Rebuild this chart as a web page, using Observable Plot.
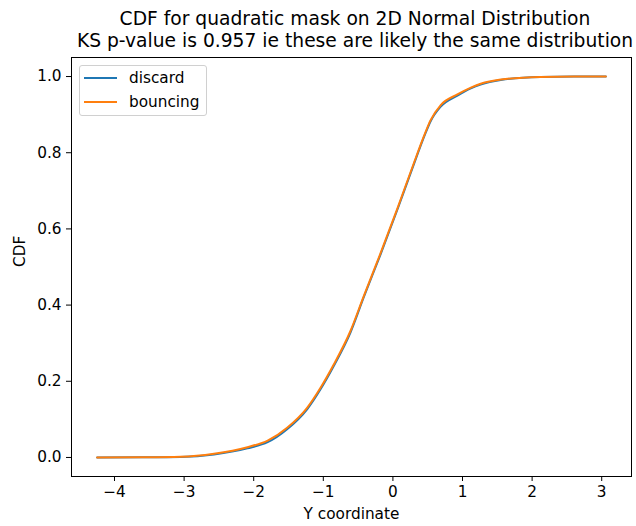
<!DOCTYPE html>
<html>
<head>
<meta charset="utf-8">
<script src="https://cdn.jsdelivr.net/npm/d3@7"></script>
<script src="https://cdn.jsdelivr.net/npm/@observablehq/plot@0.6"></script>
<style>
  html, body { margin: 0; padding: 0; background: #fff; }
  #wrap { position: relative; width: 636px; height: 526px; font-family: "DejaVu Sans", sans-serif; color: #000; }
  #title { box-sizing: border-box; width: 636px; height: 50px; padding-top: 8px; padding-left: 74px;
           font-size: 18.7px; line-height: 21.6px; text-align: center; white-space: nowrap; }
  #legend { position: absolute; left: 79px; top: 65px; width: 126px; height: 49px;
            border: 1px solid #d0d0d0; border-radius: 3px; background: rgba(255,255,255,0.8); }
  .entry { position: absolute; left: 0; height: 20px; width: 126px; }
  .swatch { position: absolute; left: 4px; width: 33px; height: 2px; top: 9px; }
  .name { position: absolute; left: 49px; top: 0; font-size: 15.3px; line-height: 20px; }
</style>
</head>
<body>
<div id="wrap">
  <div id="title"></div>
  <div id="chart"></div>
  <div id="legend"></div>
</div>
<script>
// Title lines
const titleLines = [
  "CDF for quadratic mask on 2D Normal Distribution",
  "KS p-value is 0.957 ie these are likely the same distribution"
];

// Empirical CDFs of the Y coordinate for the two masking strategies
const yCoordinate = [-4.25, -3.6, -3.05, -2.57, -2.09, -1.80, -1.52, -1.23, -1.04, -0.85,
                     -0.61, -0.42, -0.18, 0.065, 0.256, 0.47, 0.54, 0.687, 0.927, 1.12,
                     1.26, 1.55, 2.12, 2.6, 3.06];
const discardCdf = [0, 0.0004, 0.0015, 0.008, 0.024, 0.040, 0.074, 0.127, 0.179, 0.240,
                    0.328, 0.420, 0.532, 0.651, 0.747, 0.852, 0.882, 0.921, 0.950, 0.969,
                    0.979, 0.991, 0.999, 1.0, 1.0];
const bouncingCdf = [0, 0.0005, 0.002, 0.010, 0.027, 0.044, 0.078, 0.131, 0.183, 0.244,
                     0.332, 0.423, 0.535, 0.654, 0.750, 0.855, 0.885, 0.925, 0.953, 0.971,
                     0.981, 0.992, 0.999, 1.0, 1.0];

const seriesNames = ["discard", "bouncing"];
const seriesColors = ["#1f77b4", "#ff7f0e"];

const xTicks = [-4, -3, -2, -1, 0, 1, 2, 3];
const yTicks = [0, 0.2, 0.4, 0.6, 0.8, 1.0];

const seriesValues = [discardCdf, bouncingCdf];
const rows = seriesNames.flatMap((name, s) =>
  yCoordinate.map((x, i) => ({x, cdf: seriesValues[s][i], series: name}))
);

// Title
document.getElementById("title").innerHTML = titleLines.map(t => `<div>${t}</div>`).join("");

// Chart
const chart = Plot.plot({
  width: 636,
  height: 476,
  marginTop: 7,
  marginBottom: 50,
  marginLeft: 71,
  marginRight: 5,
  style: {fontFamily: "DejaVu Sans, sans-serif", fontSize: "15.3px", color: "#000", background: "white"},
  x: {domain: [-4.618, 3.428]},
  y: {domain: [-0.05, 1.05]},
  color: {domain: seriesNames, range: seriesColors},
  marks: [
    Plot.line(rows, {x: "x", y: "cdf", z: "series", stroke: "series", strokeWidth: 2, curve: "monotone-x"}),
    Plot.frame({stroke: "#000", strokeWidth: 1}),
    Plot.axisX({ticks: xTicks, tickSize: 5, tickPadding: 5, label: null, fontSize: 15.3}),
    Plot.axisY({ticks: yTicks, tickSize: 5, tickPadding: 5, tickFormat: d3.format(".1f"), label: null, fontSize: 15.3}),
    Plot.text(["Y coordinate"], {text: d => d, frameAnchor: "bottom", dy: 42, fontSize: 15.3}),
    Plot.text(["CDF"], {text: d => d, frameAnchor: "left", dx: -51, rotate: -90, fontSize: 15.3})
  ]
});
document.getElementById("chart").appendChild(chart);

// Legend
const legend = document.getElementById("legend");
seriesNames.forEach((name, i) => {
  const e = document.createElement("div");
  e.className = "entry";
  e.style.top = (2 + i * 24) + "px";
  e.innerHTML = `<div class="swatch" style="background:${seriesColors[i]}"></div><div class="name">${name}</div>`;
  legend.appendChild(e);
});
</script>
</body>
</html>
